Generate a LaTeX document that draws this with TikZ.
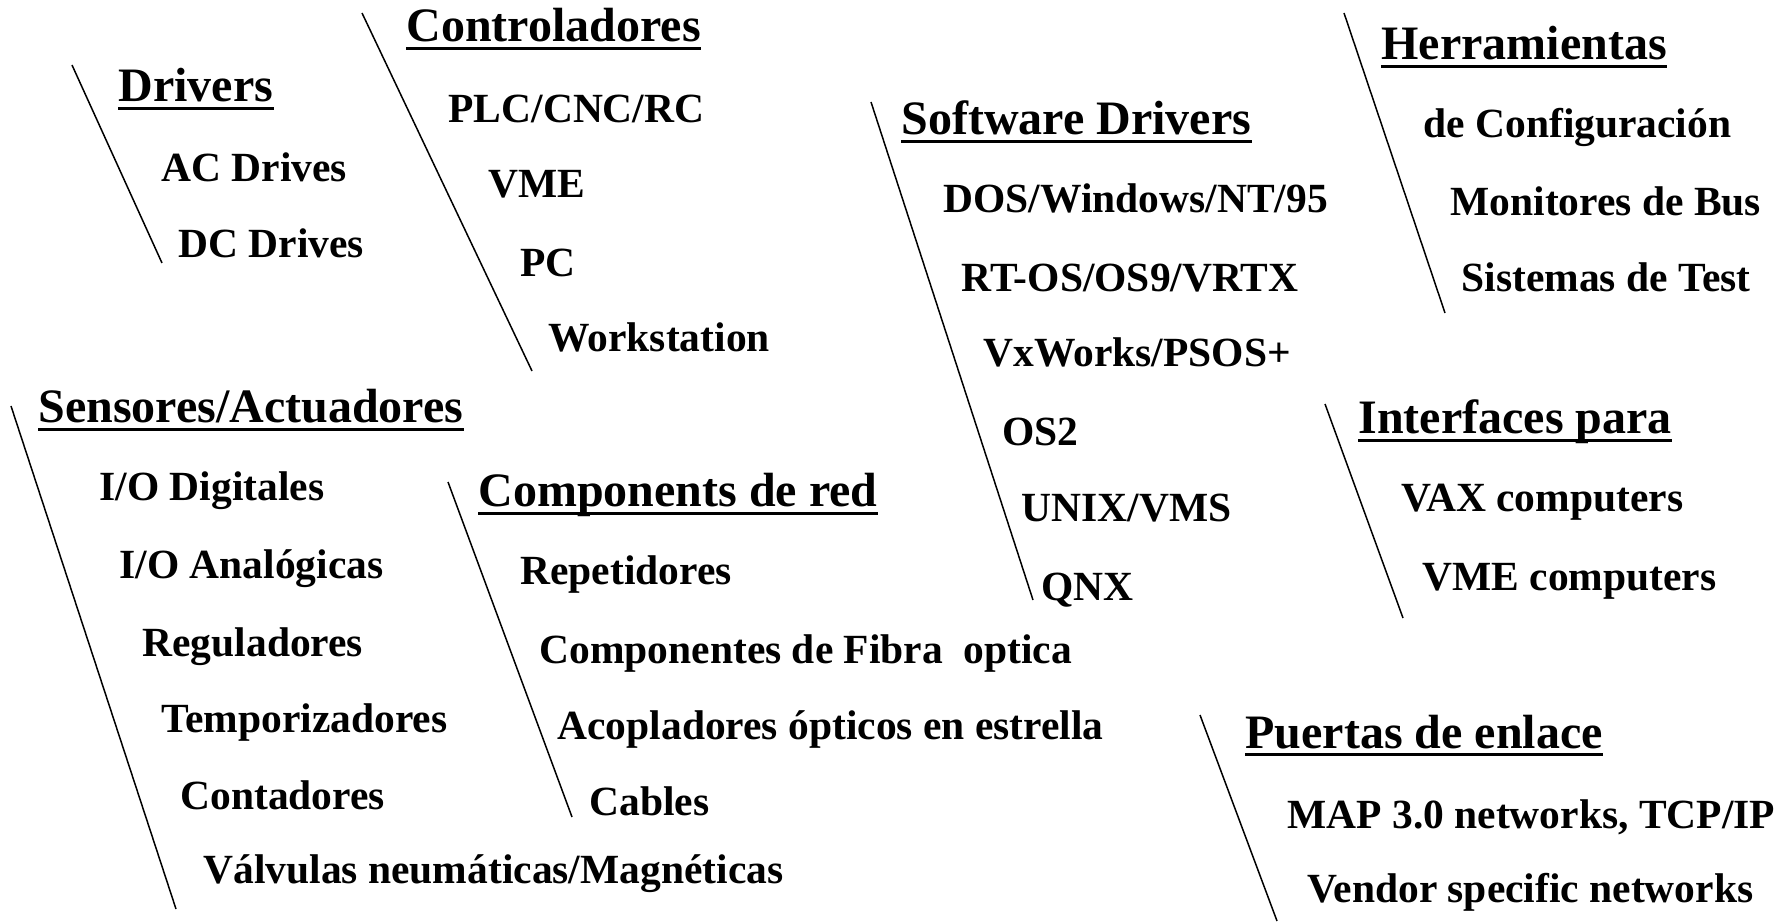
\documentclass[tikz,border=0pt]{standalone}
\usepackage{fontspec}
\setmainfont{Liberation Serif}
\begin{document}
\begin{tikzpicture}[x=0.4pt,y=-0.4pt,
  title/.style={anchor=base west,inner sep=0pt,font=\bfseries\fontsize{19.2}{22}\selectfont},
  item/.style={anchor=base west,inner sep=0pt,font=\bfseries\fontsize{16.6}{20}\selectfont},
  slash/.style={line width=0.6pt,black},
  uline/.style={line width=1.2pt,black}]
\useasboundingbox (0,0) rectangle (1791,924);
% Drivers
\node[title] (tdrv) at (118,102) {Drivers};
\node[item] (acd) at (161,182) {AC Drives};
\node[item] (dcd) at (178,258) {DC Drives};
\coordinate (ldrv1) at (72,65); \coordinate (ldrv2) at (162,263);
% Controladores
\node[title] (tctl) at (406,42) {Controladores};
\node[item] (plc) at (448,123) {PLC/CNC/RC};
\node[item] (vme) at (488,198) {VME};
\node[item] (pc) at (520,277) {PC};
\node[item] (ws) at (548,352) {Workstation};
\coordinate (lctl1) at (362,13); \coordinate (lctl2) at (532,371);
% Software Drivers
\node[title] (tsw) at (901,135) {Software Drivers};
\node[item] (dos) at (943,213) {DOS/Windows/NT/95};
\node[item] (rtos) at (961,292) {RT-OS/OS9/VRTX};
\node[item] (vx) at (983,367) {VxWorks/PSOS+};
\node[item] (os2) at (1002,446) {OS2};
\node[item] (unix) at (1021,522) {UNIX/VMS};
\node[item] (qnx) at (1041,600) {QNX};
\coordinate (lsw1) at (871,102); \coordinate (lsw2) at (1033,600);
% Herramientas
\node[title] (ther) at (1381,60) {Herramientas};
\node[item] (conf) at (1423,138) {de Configuración};
\node[item] (mon) at (1450,216) {Monitores de Bus};
\node[item] (sis) at (1461,292) {Sistemas de Test};
\coordinate (lher1) at (1344,13); \coordinate (lher2) at (1445,313);
% Sensores/Actuadores
\node[title] (tsen) at (38,423) {Sensores/Actuadores};
\node[item] (iod) at (99,501) {I/O Digitales};
\node[item] (ioa) at (119,578) {I/O Analógicas};
\node[item] (reg) at (142,656) {Reguladores};
\node[item] (tem) at (161,732) {Temporizadores};
\node[item] (con) at (180,809) {Contadores};
\node[item] (val) at (203,883) {Válvulas neumáticas/Magnéticas};
\coordinate (lsen1) at (11,406); \coordinate (lsen2) at (176,909);
% Components de red
\node[title] (tcom) at (478,507) {Components de red};
\node[item] (rep) at (520,585) {Repetidores};
\node[item] (fib) at (539,663) {Componentes de Fibra\ \ optica};
\node[item] (aco) at (557,739) {Acopladores ópticos en estrella};
\node[item] (cab) at (589,815) {Cables};
\coordinate (lcom1) at (448,482); \coordinate (lcom2) at (572,817);
% Interfaces para
\node[title] (tint) at (1358,434) {Interfaces para};
\node[item] (vax) at (1401,512) {VAX computers};
\node[item] (vmec) at (1422,590) {VME computers};
\coordinate (lint1) at (1325,404); \coordinate (lint2) at (1403,618);
% Puertas de enlace
\node[title] (tpue) at (1245,748) {Puertas de enlace};
\node[item] (map) at (1287,828) {MAP 3.0 networks, TCP/IP};
\node[item] (ven) at (1307,902) {Vendor specific networks};
\coordinate (lpue1) at (1200,715); \coordinate (lpue2) at (1277,921);
% slashes
\foreach \a/\b in {ldrv1/ldrv2,lctl1/lctl2,lsw1/lsw2,lher1/lher2,lsen1/lsen2,lcom1/lcom2,lint1/lint2,lpue1/lpue2}
  \draw[slash] (\a) -- (\b);
% underlines
\foreach \t in {tdrv,tctl,tsw,ther,tsen,tcom,tint,tpue}
  \draw[uline] ([yshift=-2.6pt]\t.base west) -- ([yshift=-2.6pt]\t.base east);
\end{tikzpicture}
\end{document}
